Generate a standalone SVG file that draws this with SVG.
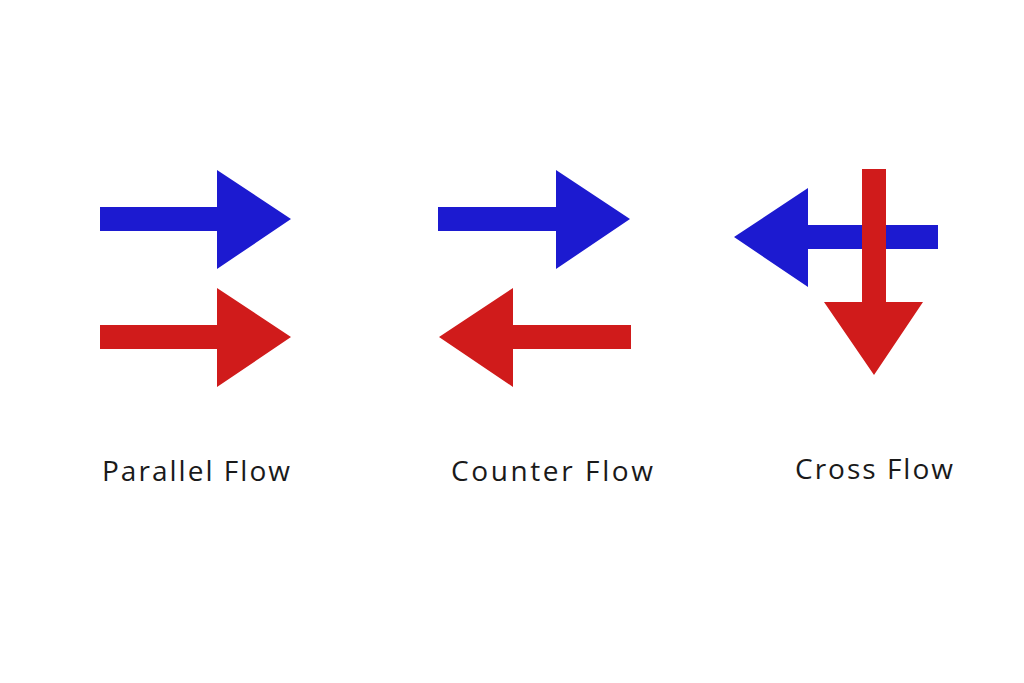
<svg xmlns="http://www.w3.org/2000/svg" width="1024" height="683" viewBox="0 0 1024 683">
<style>
.blue{fill:#1c1ad0}
.red{fill:#d01b1b}
.lbl{font-family:"Open Sans","Liberation Sans",sans-serif;font-size:28px;fill:#1a1a1a}
</style>
<rect width="1024" height="683" fill="#ffffff"/>
<g id="connectors">
<g id="parallel-flow">
<polygon class="blue" points="100,207 217,207 217,170 291,219 217,269 217,231 100,231"/>
<polygon class="red" points="100,325 217,325 217,288 291,337 217,387 217,349 100,349"/>
</g>
<g id="counter-flow">
<polygon class="blue" points="438,207 556,207 556,170 630,219 556,269 556,231 438,231"/>
<polygon class="red" points="631,325 513,325 513,288 439,337 513,387 513,349 631,349"/>
</g>
<g id="cross-flow">
<polygon class="blue" points="938,225 808,225 808,188 734,237 808,287 808,249 938,249"/>
<polygon class="red" points="862,169 886,169 886,302 923,302 874,375 824,302 862,302"/>
</g>
</g>
<g id="label-parallel"><text class="lbl" x="102" y="481" textLength="188" lengthAdjust="spacing">Parallel Flow</text></g>
<g id="label-counter"><text class="lbl" x="451" y="481" textLength="202" lengthAdjust="spacing">Counter Flow</text></g>
<g id="label-cross"><text class="lbl" x="795" y="479" textLength="158" lengthAdjust="spacing">Cross Flow</text></g>
</svg>
